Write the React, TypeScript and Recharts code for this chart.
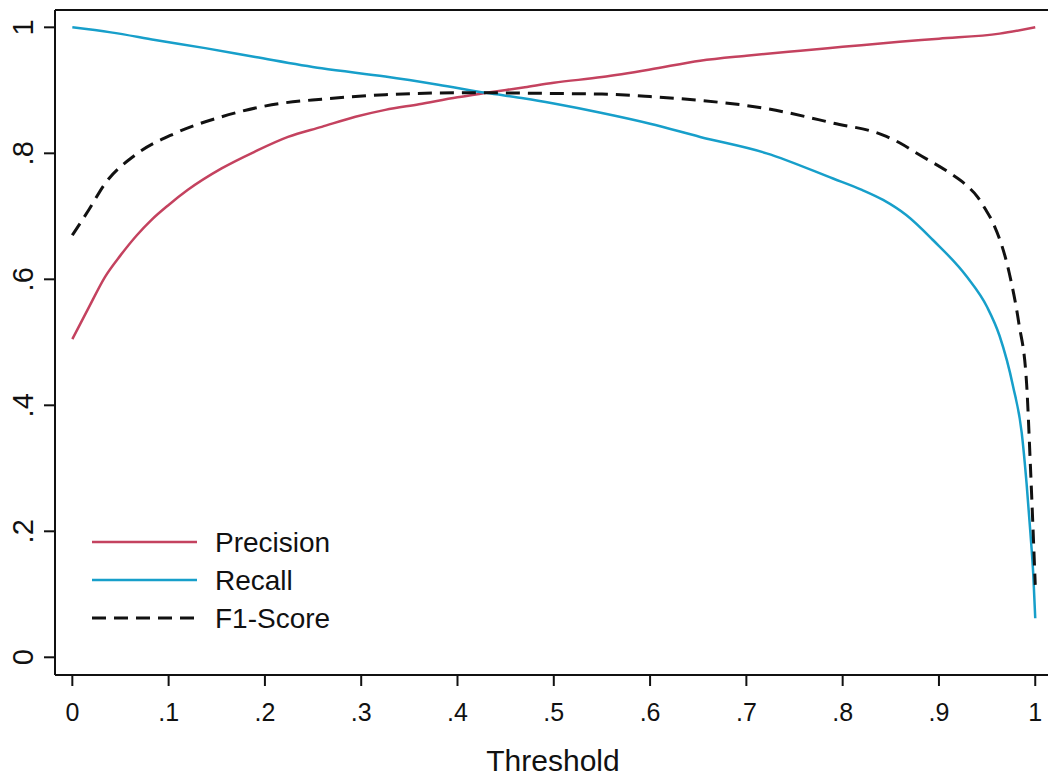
import React from 'react';
import { LineChart, Line, XAxis, YAxis, ReferenceLine } from 'recharts';

// threshold values, one array per curve
const precisionX = [0, 0.017, 0.034, 0.05, 0.067, 0.082, 0.1, 0.12, 0.155, 0.19, 0.224, 0.259, 0.294, 0.325, 0.36, 0.4, 0.43, 0.47, 0.5, 0.55, 0.6, 0.652, 0.7, 0.756, 0.8, 0.859, 0.9, 0.963, 1.0];
const precisionY = [0.505, 0.555, 0.604, 0.638, 0.67, 0.694, 0.718, 0.742, 0.776, 0.803, 0.826, 0.842, 0.858, 0.869, 0.878, 0.889, 0.896, 0.905, 0.912, 0.921, 0.933, 0.947, 0.955, 0.963, 0.969, 0.977, 0.982, 0.99, 1.0];

const recallX = [0, 0.04, 0.086, 0.138, 0.19, 0.259, 0.325, 0.38, 0.43, 0.47, 0.5, 0.55, 0.6, 0.652, 0.721, 0.79, 0.82, 0.842, 0.866, 0.894, 0.929, 0.95, 0.963, 0.977, 0.986, 0.991, 0.995, 0.998, 1.0];
const recallY = [1.0, 0.992, 0.98, 0.967, 0.953, 0.935, 0.922, 0.909, 0.896, 0.887, 0.879, 0.864, 0.847, 0.826, 0.8, 0.76, 0.742, 0.726, 0.702, 0.662, 0.604, 0.556, 0.51, 0.43, 0.356, 0.276, 0.197, 0.13, 0.062];

const f1X = [0, 0.017, 0.034, 0.065, 0.107, 0.155, 0.207, 0.259, 0.325, 0.4, 0.43, 0.5, 0.55, 0.6, 0.652, 0.721, 0.79, 0.842, 0.86, 0.877, 0.912, 0.928, 0.94, 0.948, 0.956, 0.973, 0.983, 0.991, 0.995, 1.0];
const f1Y = [0.67, 0.71, 0.752, 0.797, 0.832, 0.858, 0.877, 0.886, 0.893, 0.896, 0.896, 0.895, 0.894, 0.89, 0.884, 0.871, 0.848, 0.829, 0.816, 0.8, 0.768, 0.75, 0.731, 0.712, 0.69, 0.61, 0.53, 0.435, 0.303, 0.115];

const xTicks = [0, 0.1, 0.2, 0.3, 0.4, 0.5, 0.6, 0.7, 0.8, 0.9, 1];
const yTicks = [0, 0.2, 0.4, 0.6, 0.8, 1];
const seriesNames = ['Precision', 'Recall', 'F1-Score'];

const RED = '#c4425f';
const BLUE = '#179fca';
const FONT = '"Liberation Sans", Arial, sans-serif';

const toPoints = (xs: number[], ys: number[]) => xs.map((x, i) => ({ x, y: ys[i] }));

// stata style labels: 0, .1, .2 ... 1
const fmt = (v: number) => {
  if (v === 0 || v === 1) return String(v);
  return String(+v.toFixed(1)).replace(/^0/, '');
};

const XTick = (props: any) => {
  const { x, payload } = props;
  return (
    <text x={x} y={721} textAnchor="middle" fontSize={25} fill="#111" fontFamily={FONT}>
      {fmt(payload.value)}
    </text>
  );
};

const YTick = (props: any) => {
  const { y, payload } = props;
  return (
    <text x={0} y={0} transform={`translate(33, ${y}) rotate(-90)`} textAnchor="middle" fontSize={29} fill="#111" fontFamily={FONT}>
      {fmt(payload.value)}
    </text>
  );
};

const LegendBox = () => {
  const rows = [
    { name: seriesNames[0], color: RED, dash: undefined },
    { name: seriesNames[1], color: BLUE, dash: undefined },
    { name: seriesNames[2], color: '#111', dash: '14 8' },
  ];
  return (
    <svg width={340} height={140} style={{ display: 'block', overflow: 'visible' }}>
      {rows.map((r, i) => {
        const cy = 22 + i * 38;
        return (
          <g key={r.name}>
            <line x1={2} x2={107} y1={cy} y2={cy} stroke={r.color} strokeWidth={r.dash ? 3 : 2.5} strokeDasharray={r.dash} />
            <text x={125} y={cy + 10} fontSize={28} fill="#111" fontFamily={FONT}>{r.name}</text>
          </g>
        );
      })}
    </svg>
  );
}

export default function App() {
  const precision = toPoints(precisionX, precisionY);
  const recall = toPoints(recallX, recallY);
  const f1 = toPoints(f1X, f1Y);

  return (
    <div style={{ position: 'absolute', left: 0, top: 0, width: 1048, height: 776, overflow: 'hidden', background: '#fff' }}>
      <LineChart width={1060} height={776} margin={{ top: 10, right: 8, bottom: 0, left: 0 }}>
        <XAxis
          type="number"
          dataKey="x"
          domain={[-0.018, 1.0174]}
          ticks={xTicks}
          allowDataOverflow
          height={101}
          tickSize={11}
          tick={<XTick />}
          axisLine={{ stroke: '#111', strokeWidth: 2 }}
          tickLine={{ stroke: '#111', strokeWidth: 2 }}
          label={() => (
            <text x={553} y={771} textAnchor="middle" fontSize={30} fill="#111" fontFamily={FONT}>Threshold</text>
          )}
        />
        <YAxis
          type="number"
          domain={[-0.0281, 1.0275]}
          ticks={yTicks}
          allowDataOverflow
          width={55}
          tickSize={11}
          tick={<YTick />}
          axisLine={{ stroke: '#111', strokeWidth: 2 }}
          tickLine={{ stroke: '#111', strokeWidth: 2 }}
        />
        <ReferenceLine y={1.0275} stroke="#111" strokeWidth={2} />
        <Line data={precision} dataKey="y" name={seriesNames[0]} type="monotoneX" stroke={RED} strokeWidth={2.5} dot={false} isAnimationActive={false} />
        <Line data={recall} dataKey="y" name={seriesNames[1]} type="monotoneX" stroke={BLUE} strokeWidth={2.5} dot={false} isAnimationActive={false} />
        <Line data={f1} dataKey="y" name={seriesNames[2]} type="monotoneX" stroke="#111" strokeWidth={3} strokeDasharray="14 8" dot={false} isAnimationActive={false} />
      </LineChart>
      <div style={{ position: 'absolute', left: 90, top: 520 }}>
        <LegendBox />
      </div>
    </div>
  );
}
